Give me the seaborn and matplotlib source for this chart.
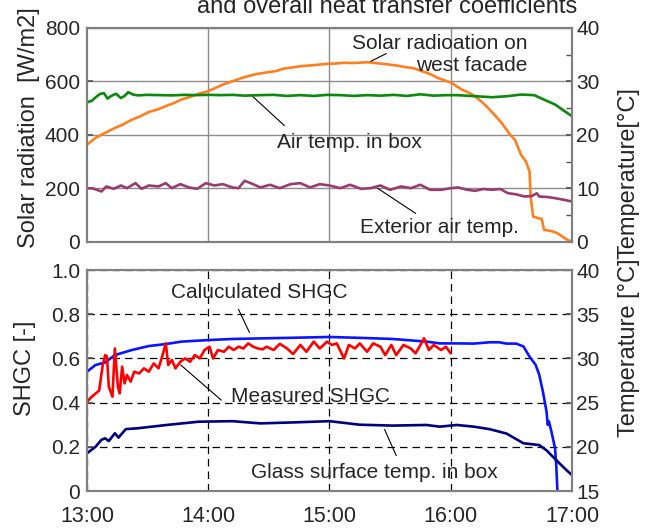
import matplotlib
matplotlib.use("Agg")
import matplotlib.pyplot as plt
import seaborn as sns

# ─── Data (time in decimal hours) ────────────────────────────────────────────
solar_t = [13.00, 13.07, 13.15, 13.23, 13.30, 13.37, 13.44, 13.51, 13.58, 13.65,
           13.72, 13.78, 13.85, 13.92, 13.99, 14.06, 14.13, 14.20, 14.27, 14.33,
           14.40, 14.47, 14.57, 14.62, 14.70, 14.76, 14.87, 14.98, 15.05, 15.12,
           15.20, 15.31, 15.40, 15.48, 15.55, 15.62, 15.69, 15.76, 15.83, 15.89,
           15.95, 16.005, 16.09, 16.15, 16.20, 16.28, 16.36, 16.42, 16.49, 16.53,
           16.58, 16.62, 16.65, 16.66, 16.68, 16.72, 16.75, 16.77, 16.83, 16.88,
           16.94, 16.98, 17.00]
solar_w = [364, 389, 408, 426, 440, 457, 470, 486, 495, 508,
           520, 533, 542, 554, 562, 576, 590, 601, 612, 620,
           628, 633, 640, 648, 653, 657, 661, 666, 667, 670,
           669, 672, 668, 664, 660, 654, 650, 639, 628, 614,
           604, 595, 570, 558, 545, 514, 476, 445, 401, 382,
           326, 301, 264, 164, 95, 89, 86, 45, 41, 33,
           14, 4, 4]

box_t = [13.00, 13.04, 13.08, 13.11, 13.14, 13.17, 13.20, 13.24, 13.28, 13.31,
         13.34, 13.38, 13.42, 13.50, 13.60, 13.70, 13.80, 13.90, 14.00, 14.10,
         14.20, 14.30, 14.43, 14.54, 14.65, 14.76, 14.87, 14.98, 15.09, 15.20,
         15.31, 15.42, 15.53, 15.64, 15.75, 15.86, 15.97, 16.06, 16.20, 16.34,
         16.47, 16.58, 16.69, 16.77, 16.86, 16.94, 17.00]
box_temp = [26.1, 26.4, 27.2, 27.7, 27.8, 26.8, 27.3, 27.7, 26.9, 27.3,
            28.0, 27.55, 27.4, 27.5, 27.45, 27.4, 27.5, 27.45, 27.5, 27.45,
            27.5, 27.35, 27.45, 27.5, 27.3, 27.45, 27.3, 27.5, 27.45, 27.3,
            27.45, 27.35, 27.5, 27.3, 27.6, 27.35, 27.45, 27.44, 27.25, 27.06,
            27.25, 27.56, 27.44, 26.6, 25.7, 24.44, 23.5]

ext_t = [13.00, 13.05, 13.12, 13.16, 13.22, 13.28, 13.33, 13.40, 13.45, 13.51,
         13.59, 13.65, 13.70, 13.77, 13.84, 13.91, 13.98, 14.05, 14.12, 14.20,
         14.25, 14.30, 14.37, 14.43, 14.51, 14.59, 14.68, 14.76, 14.84, 14.92,
         15.00, 15.09, 15.17, 15.26, 15.34, 15.42, 15.50, 15.59, 15.67, 15.75,
         15.83, 15.92, 16.00, 16.06, 16.13, 16.20, 16.27, 16.34, 16.41, 16.47,
         16.54, 16.61, 16.67, 16.71, 16.73, 16.80, 16.86, 16.93, 17.00]
ext_temp = [10.06, 10.0, 9.44, 10.38, 9.94, 10.56, 10.06, 11.0, 9.94, 10.56,
            10.38, 11.0, 10.06, 10.81, 10.19, 9.94, 11.0, 10.56, 10.81, 10.19,
            10.06, 11.44, 10.81, 10.19, 10.69, 10.06, 10.81, 11.0, 10.19, 10.81,
            10.56, 10.06, 10.69, 9.94, 10.06, 10.56, 9.75, 10.38, 10.06, 10.69,
            9.75, 9.75, 10.06, 10.19, 9.8, 9.56, 9.9, 9.75, 9.9, 9.13,
            8.9, 8.5, 8.6, 9.1, 8.5, 8.4, 8.19, 7.9, 7.56]

calc_t = [13.00, 13.07, 13.15, 13.23, 13.37, 13.51, 13.65, 13.78, 14.00, 14.20,
          14.47, 14.75, 15.00, 15.25, 15.52, 15.80, 15.91, 16.05, 16.19, 16.32,
          16.40, 16.46, 16.54, 16.60, 16.65, 16.70, 16.73, 16.76, 16.79, 16.80,
          16.81, 16.83, 16.86, 16.87, 16.88, 16.90]
calc_shgc = [0.540, 0.570, 0.582, 0.615, 0.638, 0.656, 0.665, 0.676, 0.683, 0.688,
             0.691, 0.694, 0.697, 0.693, 0.688, 0.676, 0.668, 0.668, 0.667, 0.673,
             0.673, 0.667, 0.667, 0.654, 0.608, 0.571, 0.526, 0.450, 0.360, 0.300,
             0.315, 0.270, 0.195, 0.120, 0.0, -0.2]

meas_t = [13.00, 13.04, 13.10, 13.13, 13.15, 13.165, 13.18, 13.21, 13.23, 13.255,
          13.27, 13.29, 13.31, 13.33, 13.36, 13.39, 13.43, 13.47, 13.51, 13.55,
          13.59, 13.62, 13.65, 13.67, 13.70, 13.73, 13.77, 13.81, 13.85, 13.89,
          13.93, 13.97, 14.01, 14.04, 14.08, 14.13, 14.17, 14.21, 14.25, 14.29,
          14.33, 14.37, 14.41, 14.45, 14.48, 14.54, 14.59, 14.65, 14.70, 14.76,
          14.81, 14.87, 14.92, 14.98, 15.02, 15.06, 15.12, 15.16, 15.21, 15.25,
          15.31, 15.36, 15.42, 15.46, 15.51, 15.55, 15.61, 15.67, 15.71, 15.75,
          15.78, 15.82, 15.86, 15.92, 15.96, 16.00]
meas_shgc = [0.404, 0.427, 0.454, 0.570, 0.615, 0.608, 0.472, 0.427, 0.645, 0.472,
             0.442, 0.563, 0.487, 0.525, 0.495, 0.540, 0.532, 0.555, 0.540, 0.577,
             0.555, 0.608, 0.668, 0.570, 0.593, 0.555, 0.585, 0.600, 0.585, 0.615,
             0.600, 0.638, 0.653, 0.600, 0.638, 0.630, 0.653, 0.638, 0.653, 0.645,
             0.668, 0.653, 0.645, 0.641, 0.653, 0.638, 0.666, 0.645, 0.620, 0.661,
             0.630, 0.676, 0.645, 0.676, 0.661, 0.668, 0.600, 0.661, 0.645, 0.668,
             0.630, 0.668, 0.653, 0.615, 0.661, 0.615, 0.661, 0.645, 0.623, 0.661,
             0.691, 0.638, 0.661, 0.638, 0.653, 0.623]

glass_t = [13.00, 13.07, 13.12, 13.15, 13.18, 13.23, 13.26, 13.32, 13.42, 13.65,
           13.92, 14.20, 14.43, 14.70, 15.00, 15.25, 15.52, 15.80, 15.91, 16.05,
           16.19, 16.32, 16.46, 16.60, 16.73, 16.79, 16.87, 16.94, 17.00]
glass_temp = [19.26, 20.0, 20.8, 20.96, 20.65, 21.53, 21.04, 22.0, 22.1, 22.46,
              22.84, 22.9, 22.65, 22.76, 22.9, 22.5, 22.4, 22.47, 22.28, 22.47,
              22.28, 22.0, 21.5, 20.4, 20.2, 19.6, 18.5, 17.55, 16.8]

hour_ticks = [13, 14, 15, 16, 17]
hour_labels = ["13:00", "14:00", "15:00", "16:00", "17:00"]

# ─── Colours ─────────────────────────────────────────────────────────────────
ORANGE = "#FF7F1E"
GREEN  = "#0A8A0A"
PURPLE = "#9B3A6E"
RED    = "#FF0000"
BLUE   = "#0A14FF"
NAVY   = "#000080"
FRAME  = "#808080"

sns.set_theme(style="white")
plt.rcParams["font.family"] = ["Liberation Sans", "DejaVu Sans"]
plt.rcParams["axes.unicode_minus"] = False

fig = plt.figure(figsize=(6.51, 5.31), dpi=100)
ax1 = fig.add_axes([0.1336, 0.5443, 0.745, 0.403])
ax2 = fig.add_axes([0.1336, 0.0753, 0.745, 0.4162])

LW = 1.9

# ─── Top panel ───────────────────────────────────────────────────────────────
ax1r = ax1.twinx()
sns.lineplot(x=solar_t, y=solar_w, ax=ax1, color=ORANGE, lw=LW)
sns.lineplot(x=box_t, y=box_temp, ax=ax1r, color=GREEN, lw=LW)
sns.lineplot(x=ext_t, y=ext_temp, ax=ax1r, color=PURPLE, lw=LW)

ax1.set_xlim(13, 17)
ax1.set_ylim(0, 800)
ax1r.set_ylim(0, 40)
ax1.set_xticks([14, 15, 16])
ax1.set_xticklabels([])
ax1.set_yticks([0, 200, 400, 600, 800])
ax1r.set_yticks([0, 10, 20, 30, 40])
ax1r.set_yticks([5, 15, 25, 35], minor=True)
ax1.grid(True, color="#8c8c8c", lw=1.0, ls="-")

# ─── Bottom panel ────────────────────────────────────────────────────────────
ax2r = ax2.twinx()
sns.lineplot(x=calc_t, y=calc_shgc, ax=ax2, color=BLUE, lw=LW)
sns.lineplot(x=meas_t, y=meas_shgc, ax=ax2, color=RED, lw=LW)
sns.lineplot(x=glass_t, y=glass_temp, ax=ax2r, color=NAVY, lw=LW)

ax2.set_xlim(13, 17)
ax2.set_ylim(0, 1.0)
ax2r.set_ylim(15, 40)
ax2.set_xticks(hour_ticks)
ax2.set_xticklabels(hour_labels)
ax2.set_yticks([0, 0.2, 0.4, 0.6, 0.8, 1.0])
ax2.set_yticklabels(["0", "0.2", "0.4", "0.6", "0.8", "1.0"])
ax2r.set_yticks([15, 20, 25, 30, 35, 40])
ax2.grid(True, color="black", lw=0.9, ls=(0, (6, 4)))

for a in (ax1, ax1r, ax2, ax2r):
    a.set_xlabel("")
    a.set_ylabel("")
    for s in a.spines.values():
        s.set_color(FRAME)
        s.set_linewidth(1.5)
    a.tick_params(axis="both", which="both", direction="in", length=4,
                  color="#555555", labelsize=15, pad=5)
ax1r.tick_params(axis="y", pad=3)
ax2r.tick_params(axis="y", pad=3)
ax2.tick_params(axis="x", labelsize=15.5, pad=11, length=0)
ax1.tick_params(axis="x", length=0)

# ─── Axis titles ─────────────────────────────────────────────────────────────
fig.text(29 / 651, 1 - 128 / 531, "Solar radiation  [W/m2]", rotation=90,
         ha="center", va="center", fontsize=17)
fig.text(628 / 651, 1 - 173 / 531, "Temperature[°C]", rotation=90,
         ha="center", va="center", fontsize=17)
fig.text(25 / 651, 1 - 368 / 531, "SHGC [-]", rotation=90,
         ha="center", va="center", fontsize=17)
fig.text(629 / 651, 1 - 348 / 531, "Temperature [°C]", rotation=90,
         ha="center", va="center", fontsize=17)
fig.text(387 / 651, 1 - 13 / 531, "and overall heat transfer coefficients",
         ha="center", va="baseline", fontsize=17)

# ─── Annotations ─────────────────────────────────────────────────────────────
arrow = dict(arrowstyle="-", color="black", lw=0.8)
TXT = 15
ax1.text(16.63, 720, "Solar radioation on", ha="right", va="baseline", fontsize=TXT)
ax1.text(16.63, 641, "west facade", ha="right", va="baseline", fontsize=TXT)
ax1.annotate("", xy=(15.32, 671), xytext=(15.49, 709), arrowprops=arrow)
ax1.text(14.57, 352, "Air temp. in box", ha="left", va="baseline", fontsize=TXT)
ax1.annotate("", xy=(14.35, 551), xytext=(14.645, 428), arrowprops=arrow)
ax1.text(15.255, 34, "Exterior air temp.", ha="left", va="baseline", fontsize=TXT)
ax1.annotate("", xy=(15.38, 206), xytext=(15.73, 101), arrowprops=arrow)

ax2.text(13.69, 0.873, "Caluculated SHGC", ha="left", va="baseline", fontsize=TXT)
ax2.annotate("", xy=(14.35, 0.706), xytext=(14.24, 0.833), arrowprops=arrow)
ax2.text(14.19, 0.403, "Measured SHGC", ha="left", va="baseline", fontsize=TXT)
ax2.annotate("", xy=(13.755, 0.579), xytext=(14.125, 0.403), arrowprops=arrow)
ax2.text(14.35, 0.059, "Glass surface temp. in box", ha="left", va="baseline",
         fontsize=TXT)
ax2.annotate("", xy=(15.445, 0.29), xytext=(15.56, 0.149), arrowprops=arrow)

fig.savefig("out.png", dpi=100)
plt.close(fig)
